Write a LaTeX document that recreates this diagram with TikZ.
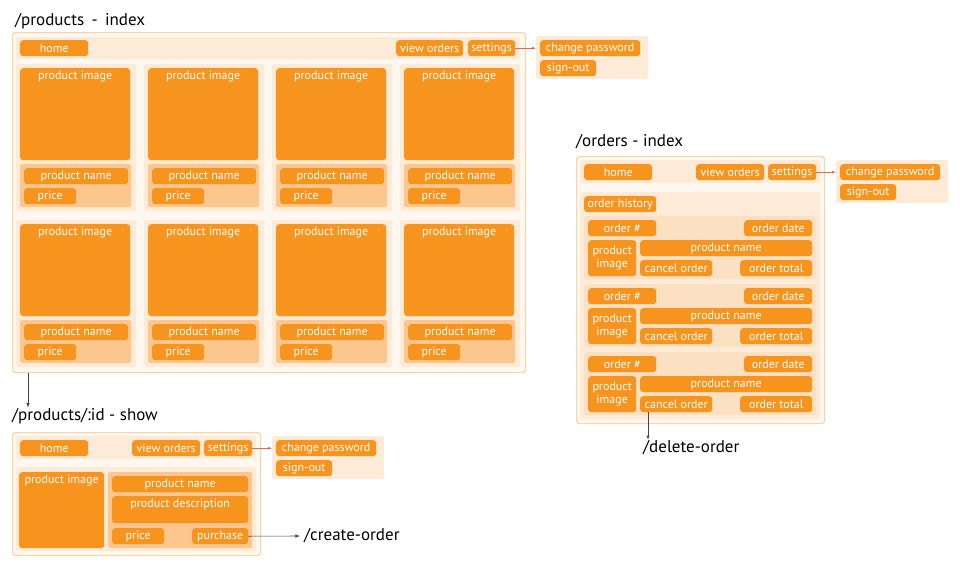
\documentclass[tikz,border=0pt]{standalone}
\usepackage{fontspec}
\setmainfont{PT Sans}
\usepackage{tikz}
\usetikzlibrary{arrows.meta,calc,positioning}
\definecolor{btnorange}{HTML}{F7941E}
\definecolor{cardbg}{HTML}{FDEBD8}
\definecolor{panelbg}{HTML}{FBC78F}
\definecolor{pagebg}{HTML}{FEF8F1}
\definecolor{pageedge}{HTML}{F8D5A3}
\definecolor{navred}{HTML}{E06A5A}
\definecolor{linkgray}{HTML}{444444}
\tikzset{
  page/.style={draw=pageedge, fill=pagebg, line width=1.2pt, rounded corners=3pt, anchor=north west, inner sep=0pt},
  band/.style={fill=cardbg, rounded corners=2pt, anchor=north west, inner sep=0pt},
  panel/.style={fill=panelbg, rounded corners=2pt, anchor=north west, inner sep=0pt},
  ordcard/.style={fill=panelbg!30!cardbg, rounded corners=2pt, anchor=north west, inner sep=0pt},
  btn/.style={fill=btnorange, text=white, rounded corners=3pt, anchor=north west, inner sep=0pt,
    minimum height=16pt, align=center, font=\fontsize{12}{12.5}\selectfont},
  toplabel/.style={text=white, anchor=north, inner sep=2.5pt, font=\fontsize{12}{12.5}\selectfont},
  title/.style={anchor=base west, inner sep=0pt, font=\fontsize{17}{20}\selectfont},
}
\begin{document}
\begin{tikzpicture}[x=1pt, y=-1pt]
  \useasboundingbox (0,0) rectangle (960,576);
  % ---------------- /products - index ----------------
  \node[title] (prodtitle) at (15,25) {/products\, -\, index};
  \node[page, minimum width=513pt, minimum height=340pt] (prodpage) at (12,32) {};
  \node[band, minimum width=504pt, minimum height=22pt] (prodnav) at (16,37) {};
  \node[btn, minimum width=68pt] (prodhome) at (20,40) {home};
  \node[btn, minimum width=67pt] (prodview) at (396,40) {view orders};
  \node[btn, minimum width=47pt] (prodsettings) at (468,40) {settings};
  % settings menu
  \node[band, minimum width=112pt, minimum height=43pt] (prodmenu) at (536,36) {};
  \node[btn, minimum width=100pt] (prodchpw) at (540,40) {change password};
  \node[btn, minimum width=56pt] (prodsignout) at (540,60) {sign-out};
  \draw[-latex, navred] (prodsettings.east) -- (prodsettings.east -| prodmenu.west);
  % product cards
  \foreach \row in {0,1} {
    \foreach \col in {0,...,3} {
      \begin{scope}[shift={(16+128*\col,64+156*\row)}]
        \node[band, minimum width=120pt, minimum height=147pt] (card\row\col) at (0,0) {};
        \node[btn, minimum width=110pt, minimum height=92pt,
          label={[toplabel]north:product image}] (img\row\col) at (4,4) {};
        \node[panel, minimum width=111pt, minimum height=43pt] (info\row\col) at (4,100) {};
        \node[btn, minimum width=104pt] (name\row\col) at (8,104) {product name};
        \node[btn, minimum width=52pt] (price\row\col) at (8,124) {price};
      \end{scope}
    }
  }
  % ---------------- /products/:id - show ----------------
  \node[title] (showtitle) at (12,420) {/products/:id - show};
  \coordinate (prodlink) at ($(prodpage.south west)+(16,0)$);
  \draw[-latex, linkgray, semithick] (prodlink) -- (prodlink |- showtitle.north);
  \node[page, minimum width=248pt, minimum height=123pt] (showpage) at (12,432) {};
  \node[band, minimum width=240pt, minimum height=23pt] (shownav) at (16,436) {};
  \node[btn, minimum width=68pt] (showhome) at (20,440) {home};
  \node[btn, minimum width=68pt] (showview) at (132,440) {view orders};
  \node[btn, minimum width=48pt] (showsettings) at (204,440) {settings};
  \node[band, minimum width=112pt, minimum height=43pt] (showmenu) at (272,436) {};
  \node[btn, minimum width=100pt] (showchpw) at (276,440) {change password};
  \node[btn, minimum width=56pt] (showsignout) at (276,460) {sign-out};
  \draw[-latex, navred] (showsettings.east) -- (showsettings.east -| showmenu.west);
  \node[band, minimum width=240pt, minimum height=84pt] (showbody) at (16,467) {};
  \node[btn, minimum width=85pt, minimum height=76pt,
    label={[toplabel]north:product image}] (showimg) at (19,472) {};
  \node[panel, minimum width=144pt, minimum height=76pt] (showinfo) at (108,472) {};
  \node[btn, minimum width=136pt] (showname) at (112,476) {product name};
  \node[btn, minimum width=136pt, minimum height=27pt,
    label={[toplabel]north:product description}] (showdesc) at (112,496) {};
  \node[btn, minimum width=52pt] (showprice) at (112,528) {price};
  \node[btn, minimum width=56pt] (showbuy) at (192,528) {purchase};
  \node[title, anchor=west, inner xsep=4pt] (createorder) at (300,536) {/create-order};
  \draw[-latex, linkgray, semithick] (showbuy.east) -- (createorder.west);
  % ---------------- /orders - index ----------------
  \node[title] (ordtitle) at (576,146) {/orders - index};
  \node[page, minimum width=248pt, minimum height=267pt] (ordpage) at (576,156) {};
  \node[band, minimum width=240pt, minimum height=23pt] (ordnav) at (580,160) {};
  \node[btn, minimum width=68pt] (ordhome) at (584,164) {home};
  \node[btn, minimum width=68pt] (ordview) at (696,164) {view orders};
  \node[btn, minimum width=48pt] (ordsettings) at (768,164) {settings};
  \node[band, minimum width=112pt, minimum height=43pt] (ordmenu) at (836,160) {};
  \node[btn, minimum width=100pt] (ordchpw) at (840,164) {change password};
  \node[btn, minimum width=56pt] (ordsignout) at (840,184) {sign-out};
  \draw[-latex, navred] (ordsettings.east) -- (ordsettings.east -| ordmenu.west);
  \node[band, minimum width=240pt, minimum height=227pt] (ordhist) at (580,192) {};
  \node[btn, minimum width=72pt] (ordhistbtn) at (584,196) {order history};
  \foreach \i in {0,1,2} {
    \begin{scope}[shift={(584,216+68*\i)}]
      \node[ordcard, minimum width=232pt, minimum height=63pt] (order\i) at (0,0) {};
      \node[btn, minimum width=68pt] (ordnum\i) at (4,4) {order \#};
      \node[btn, minimum width=68pt] (orddate\i) at (160,4) {order date};
      \node[btn, minimum width=48pt, minimum height=36pt] (ordimg\i) at (4,24) {product\\image};
      \node[btn, minimum width=172pt] (ordname\i) at (56,24) {product name};
      \node[btn, minimum width=72pt] (cancel\i) at (56,44) {cancel order};
      \node[btn, minimum width=72pt] (ordtotal\i) at (156,44) {order total};
    \end{scope}
  }
  \node[title] (deleteorder) at (643,452) {/delete-order};
  \coordinate (dellink) at ($(cancel2.south west)+(8,0)$);
  \draw[-latex, linkgray] (dellink) -- (dellink |- deleteorder.north);
\end{tikzpicture}
\end{document}
